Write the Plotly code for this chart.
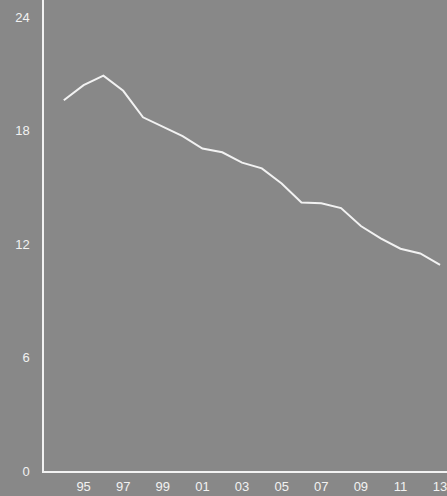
import plotly.graph_objects as go

years = list(range(1994, 2014))
values = [19.6, 20.4, 20.9, 20.1, 18.7, 18.2, 17.7, 17.05, 16.85, 16.3,
          16.0, 15.2, 14.2, 14.15, 13.9, 12.95, 12.3, 11.75, 11.5, 10.9]

x_tickvals = [1995, 1997, 1999, 2001, 2003, 2005, 2007, 2009, 2011, 2013]
x_ticktext = ["95", "97", "99", "01", "03", "05", "07", "09", "11", "13"]
y_tickvals = [0, 6, 12, 18, 24]
y_ticktext = ["0", "6", "12", "18", "24"]

bg = "#888888"
fg = "#f2f2f2"

fig = go.Figure(go.Scatter(
    x=years, y=values, mode="lines",
    line=dict(color=fg, width=2),
    hoverinfo="skip",
))

fig.update_layout(
    width=447, height=496,
    margin=dict(l=44, r=0, t=0, b=25),
    paper_bgcolor=bg, plot_bgcolor=bg,
    showlegend=False,
    font=dict(family="Liberation Sans, Arial, sans-serif", size=13, color=fg),
)
fig.update_xaxes(
    range=[1993, 2013.35],
    tickvals=x_tickvals, ticktext=x_ticktext,
    showgrid=False, zeroline=False,
    showline=True, linecolor=fg, linewidth=1.5,
    ticks="outside", ticklen=3, tickcolor=bg,
    ticklabeloverflow="allow",
)
fig.update_yaxes(
    range=[0, 24.9],
    tickvals=y_tickvals, ticktext=y_ticktext,
    showgrid=False, zeroline=False,
    showline=True, linecolor=fg, linewidth=1.5,
    ticks="outside", ticklen=10, tickcolor=bg,
    ticklabeloverflow="allow",
)

fig.write_html(
    "out.html",
    config={"displayModeBar": False},
    post_script="document.body.style.margin='0';document.body.style.background='%s';" % bg,
)
